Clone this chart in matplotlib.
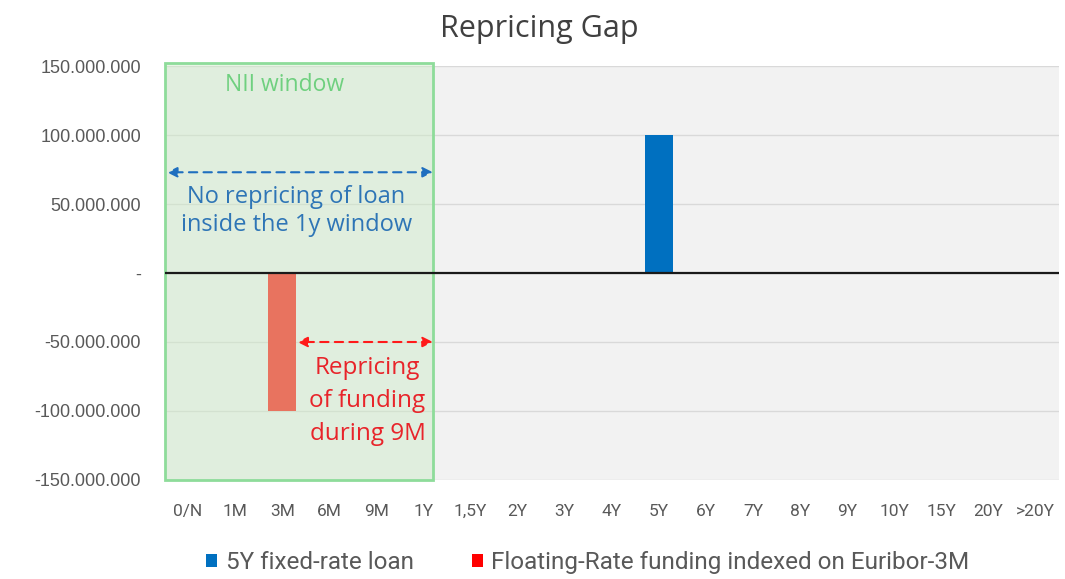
import matplotlib
matplotlib.use("Agg")
import matplotlib.pyplot as plt
from matplotlib.patches import Rectangle, Patch
from matplotlib.ticker import FuncFormatter

# Repricing buckets and gap amounts
buckets = ["0/N", "1M", "3M", "6M", "9M", "1Y", "1,5Y", "2Y", "3Y", "4Y", "5Y",
           "6Y", "7Y", "8Y", "9Y", "10Y", "15Y", "20Y", ">20Y"]
loan_gap = [0, 0, 0, 0, 0, 0, 0, 0, 0, 0, 100_000_000, 0, 0, 0, 0, 0, 0, 0, 0]
funding_gap = [0, 0, -100_000_000, 0, 0, 0, 0, 0, 0, 0, 0, 0, 0, 0, 0, 0, 0, 0, 0]
y_ticks = [-150_000_000, -100_000_000, -50_000_000, 0, 50_000_000, 100_000_000, 150_000_000]
legend_labels = ["5Y fixed-rate loan", "Floating-Rate funding indexed on Euribor-3M"]

plt.rcParams["font.family"] = ["Open Sans", "DejaVu Sans"]
narrow_font = ["Roboto", "DejaVu Sans"]

fig = plt.figure(figsize=(10.65, 5.79), dpi=100)
ax = fig.add_axes([0.1545, 0.171, 0.84, 0.715])
ax.set_facecolor("#f2f2f2")

x = list(range(len(buckets)))
ax.bar(x, loan_gap, width=0.6, color="#0070c0", zorder=3)
ax.bar(x, funding_gap, width=0.6, color="#e8735f", zorder=3)

ax.set_xlim(-0.5, len(buckets) - 0.5)
ax.set_ylim(-150_000_000, 150_000_000)
ax.set_yticks(y_ticks)


def fmt(v, _pos):
    if v == 0:
        return "-"
    s = f"{abs(v):,.0f}".replace(",", ".")
    return ("-" if v < 0 else "") + s


ax.yaxis.set_major_formatter(FuncFormatter(fmt))
ax.set_xticks(x)
ax.set_xticklabels(buckets)
for lab in ax.get_yticklabels():
    lab.set_family(["Liberation Sans", "DejaVu Sans"])
    lab.set_fontsize(13)
    lab.set_color("#595959")
for lab in ax.get_xticklabels():
    lab.set_family(narrow_font)
    lab.set_fontsize(12.5)
    lab.set_color("#595959")
ax.tick_params(axis="both", length=0)
ax.tick_params(axis="y", pad=17)
ax.tick_params(axis="x", pad=17)
ax.grid(axis="y", color="#d9d9d9", linewidth=1, zorder=0)
ax.set_axisbelow(True)
for sp in ax.spines.values():
    sp.set_visible(False)

ax.axhline(0, color="#1a1a1a", linewidth=1.6, zorder=4)

# NII window shading over the first year of buckets
win = Rectangle((-0.5, -150_000_000), 5.7, 302_000_000,
                facecolor=(0.80, 0.92, 0.78, 0.45), edgecolor="#8edc9a",
                linewidth=2, zorder=2, clip_on=False)
ax.add_patch(win)
ax.text(2.05, 136_000_000, "NII window", color="#6fd07f", fontsize=16.5,
        ha="center", va="center", zorder=5)

# Loan: no repricing within the window
ax.annotate("", xy=(-0.45, 73_000_000), xytext=(5.2, 73_000_000),
            arrowprops=dict(arrowstyle="<|-|>", linestyle=(0, (4, 3)), color="#1f6fbf",
                            lw=1.5, mutation_scale=15, shrinkA=0, shrinkB=0), zorder=5)
ax.text(2.3, 45_000_000, "No repricing of loan\ninside the 1y window", color="#2e75b6",
        fontsize=17, ha="center", va="center", linespacing=1.25, zorder=5)

# Funding: repricing from 3M through the end of the window
ax.annotate("", xy=(2.32, -50_000_000), xytext=(5.2, -50_000_000),
            arrowprops=dict(arrowstyle="<|-|>", linestyle=(0, (4, 3)), color="#ff1a1a",
                            lw=1.5, mutation_scale=15, shrinkA=0, shrinkB=0), zorder=5)
ax.text(3.81, -93_000_000, "Repricing\nof funding\nduring 9M", color="#e8242a",
        fontsize=17.5, ha="center", va="center", linespacing=1.5, zorder=5)

fig.text(0.506, 1 - 37 / 579, "Repricing Gap", ha="center", va="baseline", fontsize=22,
         color="#404040")

handles = [Patch(facecolor="#0070c0"), Patch(facecolor="#ff0000")]
leg = fig.legend(handles, legend_labels, loc="center", bbox_to_anchor=(0.552, 0.028),
                 ncol=2, frameon=False, handlelength=0.45, handleheight=0.45,
                 handletextpad=0.35, columnspacing=2.4,
                 prop={"family": narrow_font, "size": 17.5})
for t in leg.get_texts():
    t.set_color("#595959")

fig.savefig("out.png", dpi=100, facecolor="white")
